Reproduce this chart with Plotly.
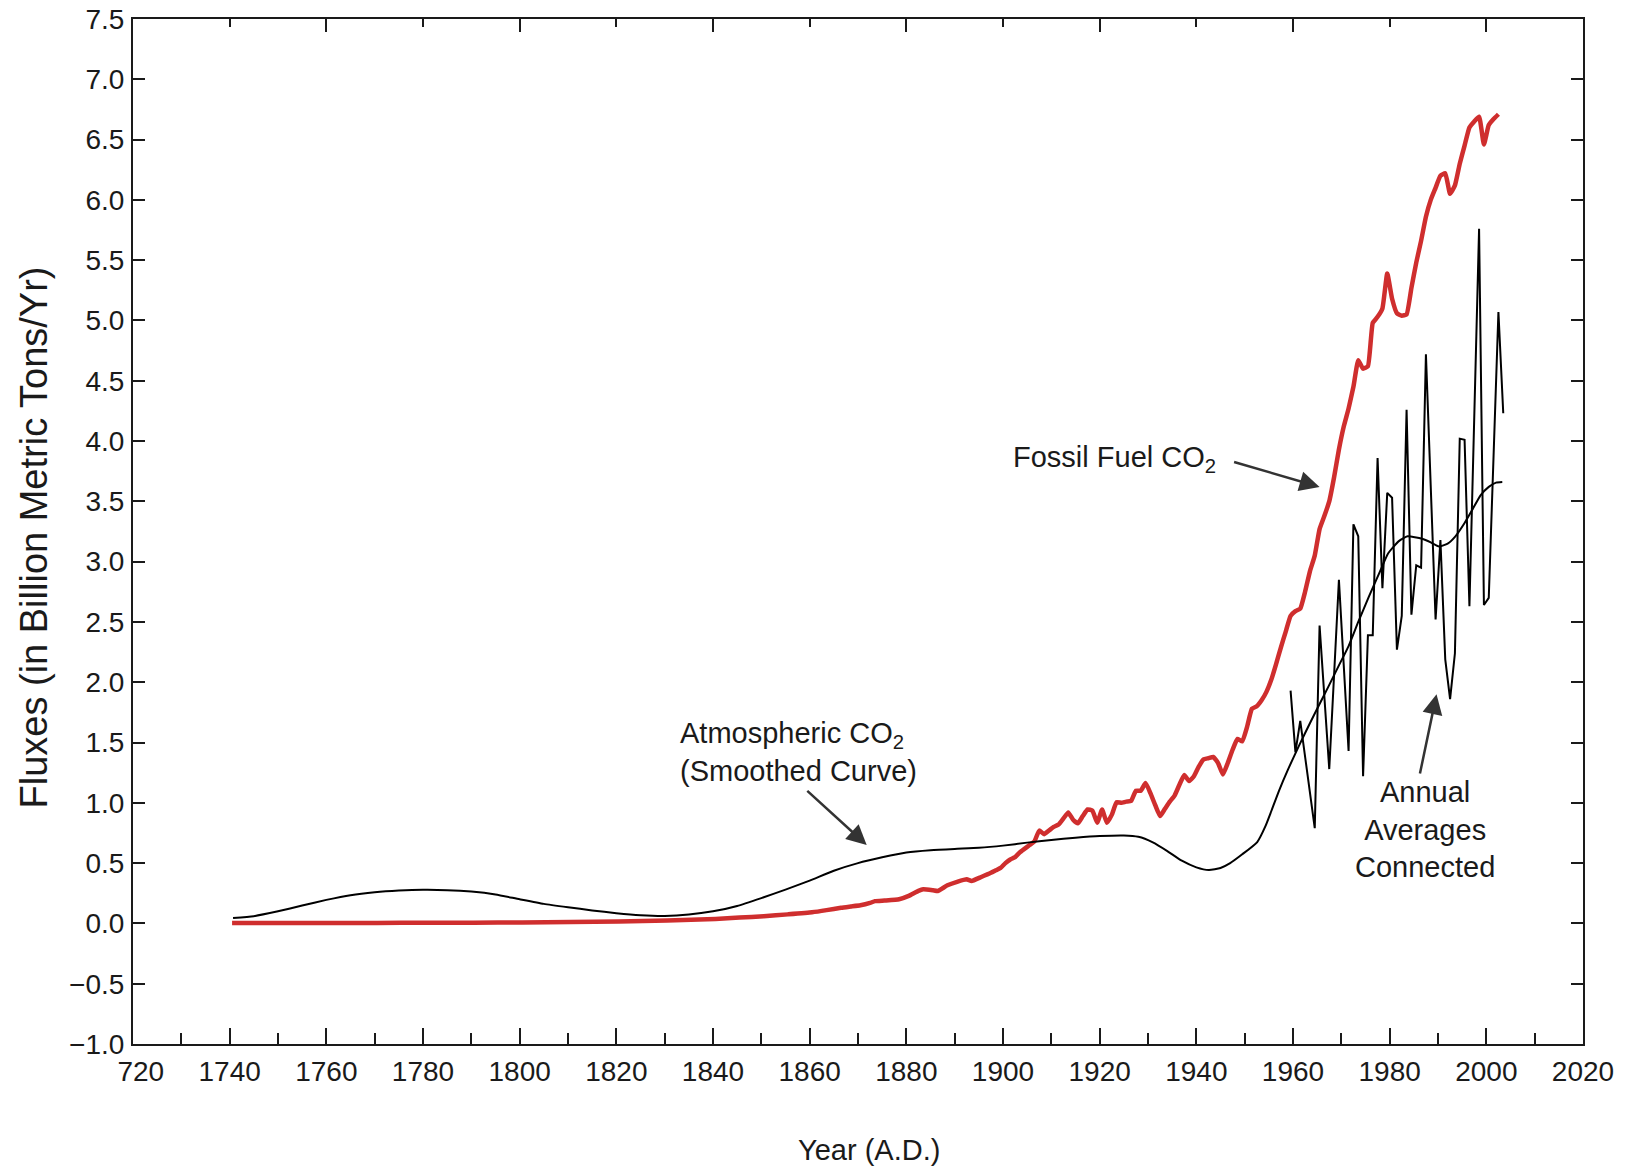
import plotly.graph_objects as go

# Global fossil-fuel CO2 emissions (billion metric tons C per year), keyed by year
fossil_years = [
    1740, 1750, 1760, 1770, 1780, 1790, 1800, 1810, 1820, 1830,
    1840, 1845, 1850, 1855, 1860, 1863, 1866, 1868, 1870, 1872,
    1873, 1875, 1878, 1880, 1882, 1883, 1885, 1886, 1888, 1890,
    1892, 1893, 1895, 1897, 1898, 1899,
    1900, 1901, 1902, 1903, 1904, 1905, 1906, 1907, 1908, 1909,
    1910, 1911, 1912, 1913, 1914, 1915, 1916, 1917, 1918, 1919,
    1920, 1921, 1922, 1923, 1924, 1925, 1926, 1927, 1928, 1929,
    1930, 1931, 1932, 1933, 1934, 1935, 1936, 1937, 1938, 1939,
    1940, 1941, 1942, 1943, 1944, 1945, 1946, 1947, 1948, 1949,
    1950, 1951, 1952, 1953, 1954, 1955, 1956, 1957, 1958, 1959,
    1960, 1961, 1962, 1963, 1964, 1965, 1966, 1967, 1968, 1969,
    1970, 1971, 1972, 1973, 1974, 1975, 1976, 1977, 1978, 1979,
    1980, 1981, 1982, 1983, 1984, 1985, 1986, 1987, 1988, 1989,
    1990, 1991, 1992, 1993, 1994, 1995, 1996, 1997, 1998, 1999,
    2000, 2001, 2002,
]
fossil_values = [
    0.003, 0.003, 0.003, 0.004, 0.005, 0.006, 0.008, 0.011, 0.016, 0.025,
    0.037, 0.048, 0.060, 0.075, 0.092, 0.110, 0.130, 0.140, 0.150, 0.170,
    0.185, 0.190, 0.200, 0.228, 0.270, 0.283, 0.275, 0.269, 0.316, 0.345,
    0.366, 0.352, 0.385, 0.420, 0.440, 0.460,
    0.500, 0.530, 0.550, 0.590, 0.620, 0.650, 0.680, 0.770, 0.740, 0.770,
    0.800, 0.820, 0.870, 0.920, 0.860, 0.830, 0.890, 0.945, 0.935, 0.835,
    0.945, 0.835, 0.900, 1.005, 1.000, 1.010, 1.015, 1.100, 1.100, 1.165,
    1.080, 0.980, 0.890, 0.950, 1.010, 1.060, 1.150, 1.230, 1.180, 1.220,
    1.300, 1.360, 1.370, 1.380, 1.330, 1.235, 1.330, 1.440, 1.530, 1.510,
    1.630, 1.780, 1.800, 1.850, 1.920, 2.020, 2.150, 2.290, 2.420, 2.550,
    2.590, 2.610, 2.750, 2.920, 3.050, 3.270, 3.380, 3.500, 3.700, 3.930,
    4.120, 4.270, 4.450, 4.670, 4.600, 4.620, 4.980, 5.030, 5.100, 5.390,
    5.180, 5.060, 5.040, 5.050, 5.270, 5.480, 5.660, 5.860, 6.000, 6.100,
    6.200, 6.220, 6.050, 6.120, 6.300, 6.450, 6.600, 6.650, 6.690, 6.460,
    6.620, 6.670, 6.710,
]

# Smoothed atmospheric CO2 increase (billion metric tons C per year)
smooth_years = [
    1740.7, 1745, 1750, 1755, 1760, 1765, 1770, 1775, 1780, 1785,
    1790, 1795, 1800, 1805, 1810, 1815, 1820, 1825, 1830, 1835,
    1840, 1845, 1850, 1855, 1860, 1865, 1870, 1875, 1880, 1885,
    1890, 1895, 1900, 1905, 1910, 1915, 1920, 1925, 1928, 1931,
    1934, 1937, 1940, 1942.6, 1945, 1947, 1949.5, 1952.6, 1954.3, 1955.5,
    1957.1, 1959, 1961.2, 1963.5, 1965, 1967.4, 1969.5, 1971.5, 1973.5, 1975.7,
    1977.8, 1979.7, 1981.9, 1983.7, 1986.7, 1988.5, 1990.2, 1992, 1993.6, 1995.5,
    1997.1, 1998.8, 2000.5, 2002, 2003.3,
]
smooth_values = [
    0.045, 0.060, 0.100, 0.148, 0.195, 0.234, 0.258, 0.272, 0.279, 0.276,
    0.264, 0.240, 0.200, 0.162, 0.134, 0.108, 0.085, 0.068, 0.062, 0.073,
    0.100, 0.145, 0.210, 0.280, 0.355, 0.437, 0.500, 0.548, 0.588, 0.607,
    0.618, 0.627, 0.645, 0.670, 0.692, 0.710, 0.724, 0.729, 0.718, 0.672,
    0.600, 0.520, 0.465, 0.443, 0.460, 0.500, 0.573, 0.675, 0.807, 0.930,
    1.100, 1.280, 1.470, 1.660, 1.780, 1.970, 2.140, 2.300, 2.500, 2.710,
    2.900, 3.070, 3.170, 3.210, 3.190, 3.160, 3.125, 3.150, 3.210, 3.320,
    3.430, 3.550, 3.620, 3.655, 3.660,
]

# Annual atmospheric CO2 increase, yearly averages
annual_years = [
    1959, 1960, 1961, 1962, 1963, 1964, 1965, 1966, 1967, 1968,
    1969, 1970, 1971, 1972, 1973, 1974, 1975, 1976, 1977, 1978,
    1979, 1980, 1981, 1982, 1983, 1984, 1985, 1986, 1987, 1988,
    1989, 1990, 1991, 1992, 1993, 1994, 1995, 1996, 1997, 1998,
    1999, 2000, 2001, 2002, 2003,
]
annual_values = [
    1.93, 1.42, 1.68, 1.38, 1.09, 0.79, 2.47, 1.87, 1.28, 2.06,
    2.85, 2.14, 1.43, 3.31, 3.21, 1.22, 2.39, 2.39, 3.86, 2.78,
    3.57, 3.53, 2.27, 2.55, 4.26, 2.56, 2.97, 2.95, 4.72, 3.62,
    2.52, 3.18, 2.19, 1.86, 2.24, 4.02, 4.01, 2.63, 4.19, 5.76,
    2.64, 2.70, 3.88, 5.07, 4.23,
]

x_range = [1720, 2020]
y_range = [-1.0, 7.5]
x_label_alias = {"1720": "\u2007720"}

FONT = "Liberation Sans, Arial, Helvetica, sans-serif"
INK = "#1a1a1a"
ARROW = "#333333"
RED = "#cf2e2e"

fig = go.Figure()

# yearly values are centred on mid-year
fig.add_trace(go.Scatter(
    x=[yr + 0.5 for yr in fossil_years], y=fossil_values,
    mode="lines", line=dict(color=RED, width=4.5, shape="spline", smoothing=0.4),
    name="Fossil Fuel CO2", hoverinfo="skip",
))
fig.add_trace(go.Scatter(
    x=smooth_years, y=smooth_values,
    mode="lines", line=dict(color="black", width=2, shape="spline", smoothing=0.5),
    name="Atmospheric CO2 (Smoothed Curve)", hoverinfo="skip",
))
fig.add_trace(go.Scatter(
    x=[yr + 0.5 for yr in annual_years], y=annual_values,
    mode="lines", line=dict(color="black", width=2),
    name="Annual Averages Connected", hoverinfo="skip",
))
# carrier for the top tick axis
fig.add_trace(go.Scatter(x=[], y=[], xaxis="x2", showlegend=False, hoverinfo="skip"))

axis_common = dict(
    showgrid=False, zeroline=False, showline=True, linewidth=2, linecolor=INK,
    ticks="inside", tickwidth=2, tickcolor=INK, automargin=False,
    tickfont=dict(family=FONT, size=28, color=INK),
)

fig.update_layout(
    width=1632, height=1168,
    margin=dict(l=133, r=49, t=19, b=124),
    paper_bgcolor="white", plot_bgcolor="white",
    showlegend=False,
    font=dict(family=FONT, color=INK),
    xaxis=dict(
        **axis_common,
        range=x_range, tickmode="linear", tick0=1720, dtick=20, ticklen=16,
        labelalias=x_label_alias, mirror=True, ticklabelstandoff=1,
        minor=dict(dtick=10, tick0=1720, ticks="inside", ticklen=11,
                   tickwidth=2, tickcolor=INK),
    ),
    xaxis2=dict(
        overlaying="x", side="top", range=x_range, automargin=False,
        showgrid=False, zeroline=False, showline=False, showticklabels=False,
        ticks="inside", tickmode="linear", tick0=1720, dtick=40, ticklen=13,
        tickwidth=2, tickcolor=INK,
        minor=dict(dtick=20, tick0=1720, ticks="inside", ticklen=8,
                   tickwidth=2, tickcolor=INK),
    ),
    yaxis=dict(
        **axis_common,
        range=y_range, tickmode="linear", tick0=0, dtick=0.5, ticklen=12,
        tickformat=".1f", mirror="ticks", ticklabelstandoff=1,
    ),
)

label_font = dict(family=FONT, size=29, color=INK)
annotations = [
    # axis titles
    dict(text="Fluxes (in Billion Metric Tons/Yr)", xref="paper", yref="paper",
         x=0, y=0.5, xshift=-100, yshift=-6, textangle=-90, showarrow=False,
         xanchor="center", yanchor="middle", font=dict(family=FONT, size=38, color=INK)),
    dict(text="Year (A.D.)", xref="paper", yref="paper", x=0.5076, y=0, yshift=-106,
         showarrow=False, xanchor="center", yanchor="middle", font=label_font),
    # series labels
    dict(text="Fossil Fuel CO<sub>2</sub>", x=1901.6, y=3.85, xref="x", yref="y",
         showarrow=False, xanchor="left", yanchor="middle", font=label_font),
    dict(text="Atmospheric CO<sub>2</sub><br>(Smoothed Curve)", x=1832.7, y=1.42,
         xref="x", yref="y", showarrow=False, xanchor="left", yanchor="middle",
         align="left", font=label_font),
    dict(text="Annual<br>Averages<br>Connected", x=1987.3, y=0.78, xref="x", yref="y",
         showarrow=False, xanchor="center", yanchor="middle", align="center",
         font=label_font),
]
# pointer arrows: (head year, head value, tail year, tail value)
arrows = [
    (1965.5, 3.62, 1947.5, 3.83),
    (1871.8, 0.65, 1859.2, 1.11),
    (1989.7, 1.90, 1986.2, 1.23),
]
for hx, hy, tx, ty in arrows:
    annotations.append(dict(
        text="", x=hx, y=hy, ax=tx, ay=ty, xref="x", yref="y", axref="x", ayref="y",
        showarrow=True, arrowhead=2, arrowsize=1.6, arrowwidth=2.5, arrowcolor=ARROW,
        standoff=0, startstandoff=0,
    ))
fig.update_layout(annotations=annotations)

fig.write_html("out.html")
